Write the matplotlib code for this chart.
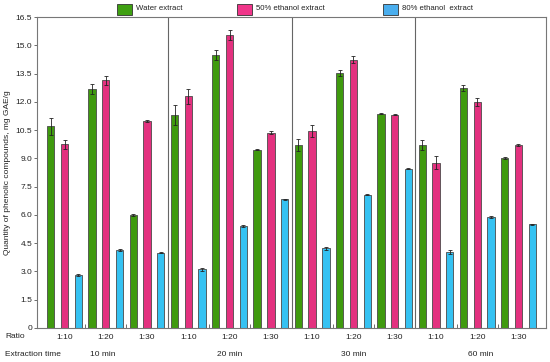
import matplotlib
matplotlib.use("Agg")
import matplotlib.pyplot as plt
from matplotlib.patches import Rectangle
import numpy as np

plt.rcParams['font.family'] = ['Liberation Sans', 'DejaVu Sans']

times = ["10 min", "20 min", "30 min", "60 min"]
ratios = ["1:10", "1:20", "1:30"]
series = ["Water extract", "50% ethanol extract", "80% ethanol  extract"]

# values ordered by time, then ratio
water = [10.70, 12.70, 5.99, 11.32, 14.47, 9.47, 9.73, 13.53, 11.38, 9.73, 12.75, 9.03]
water_err = [0.44, 0.27, 0.04, 0.53, 0.27, 0.05, 0.32, 0.18, 0.04, 0.27, 0.16, 0.05]
eth50 = [9.75, 13.14, 11.00, 12.29, 15.56, 10.35, 10.45, 14.24, 11.32, 8.78, 12.00, 9.70]
eth50_err = [0.25, 0.23, 0.06, 0.41, 0.26, 0.08, 0.34, 0.20, 0.04, 0.35, 0.21, 0.04]
eth80 = [2.81, 4.13, 3.99, 3.11, 5.41, 6.84, 4.22, 7.08, 8.46, 4.03, 5.87, 5.51]
eth80_err = [0.05, 0.04, 0.03, 0.06, 0.04, 0.03, 0.10, 0.05, 0.04, 0.10, 0.05, 0.03]

colors = ["#3f9a0e", "#e3317f", "#35c2f2"]
legend_colors = ["#3fa012", "#f0368a", "#4aaeee"]

fig = plt.figure(figsize=(5.5, 3.62), dpi=100)
ax = fig.add_axes([37/550, 1 - 328/362, (546 - 37)/550, (328 - 17)/362])

n = len(water)
cluster = np.arange(n) * 3
w = 0.53
edge = "#4a4a4a"
for k, (vals, errs) in enumerate([(water, water_err), (eth50, eth50_err), (eth80, eth80_err)]):
    x = cluster + k
    ax.bar(x, vals, width=w, color=colors[k], edgecolor=edge, linewidth=0.6, zorder=2)
    ax.errorbar(x, vals, yerr=errs, fmt="none", ecolor="#222222", elinewidth=0.6,
                capsize=1.3, capthick=0.6, zorder=3)

ax.set_xlim(-1, 3 * n)
ax.set_ylim(0, 16.5)
yt = np.arange(0, 16.51, 1.5)
ax.set_yticks(yt)
ax.set_yticklabels(["0"] + [f"{v:.1f}" for v in yt[1:]], fontsize=6, color="#222222")
ax.tick_params(axis="y", length=2, width=0.6, color="#555555", pad=1.5)

# separators between extraction times
for s in [8.5, 17.5, 26.5]:
    ax.axvline(s, color="#666666", linewidth=0.8, zorder=1)

# small inner ticks between ratio clusters
minor = []
for g in range(4):
    minor += [g * 9 + 2.5, g * 9 + 5.5]
ax.set_xticks(minor)
ax.set_xticklabels([])
ax.tick_params(axis="x", direction="in", length=3, width=0.6, color="#555555")

for sp in ax.spines.values():
    sp.set_color("#777777")
    sp.set_linewidth(0.8)

ax.set_ylabel("Quantity of phenolic compounds, mg GAE/g", fontsize=6, color="#222222", labelpad=3)

# ratio labels
trans = ax.get_xaxis_transform()
for i in range(n):
    ax.text(cluster[i] + 1, -0.029, ratios[i % 3], transform=trans, ha="center", va="center",
            fontsize=6, color="#222222")
group_centers = [3.75, 13, 22, 31.25]
for g, t in enumerate(times):
    ax.text(group_centers[g], -0.084, t, transform=trans, ha="center", va="center",
            fontsize=6, color="#222222")
fig.text(5/550, 1 - 337/362, "Ratio", ha="left", va="center", fontsize=6, color="#222222")
fig.text(5/550, 1 - 354/362, "Extraction time", ha="left", va="center", fontsize=6, color="#222222")

# legend
leg_x = [117, 237, 383]
for k in range(3):
    fig.patches.append(Rectangle((leg_x[k]/550, 1 - 14.5/362), 15/550, 11/362,
                                 transform=fig.transFigure, facecolor=legend_colors[k],
                                 edgecolor="#333333", linewidth=0.6))
    fig.text((leg_x[k] + 18.5)/550, 1 - 9/362, series[k], ha="left", va="center",
             fontsize=5.6, color="#222222")

fig.savefig("out.png", dpi=100)
